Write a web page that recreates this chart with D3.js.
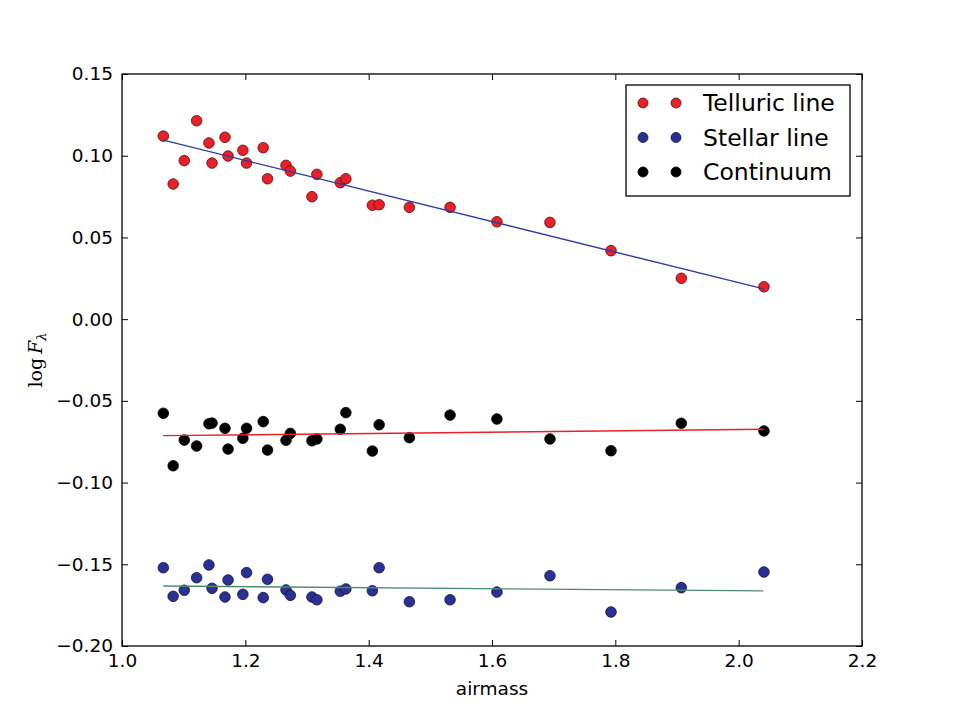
<!DOCTYPE html>
<html>
<head>
<meta charset="utf-8">
<style>
  body { margin: 0; background: #fff; }
</style>
</head>
<body>
<div id="chart"></div>
<script src="https://cdn.jsdelivr.net/npm/d3@7"></script>
<script>
// airmass of each exposure (shared by all three series)
const airmass = [1.067, 1.083, 1.101, 1.121, 1.141, 1.146, 1.167, 1.172, 1.196, 1.202,
                 1.229, 1.236, 1.266, 1.273, 1.308, 1.316, 1.354, 1.363, 1.406, 1.417,
                 1.466, 1.532, 1.608, 1.694, 1.793, 1.907, 2.041];

const telluric = [0.112, 0.0827, 0.097, 0.1214, 0.1078, 0.0955, 0.1113, 0.0998, 0.1033, 0.0955,
                  0.1049, 0.0859, 0.0941, 0.0906, 0.0749, 0.0886, 0.0835, 0.0859, 0.0697, 0.070,
                  0.0684, 0.0684, 0.0596, 0.0592, 0.0419, 0.025, 0.0198];

const stellar = [-0.1521, -0.1696, -0.1659, -0.1582, -0.1504, -0.1647, -0.170, -0.1596, -0.1684, -0.1551,
                 -0.1704, -0.1592, -0.1657, -0.169, -0.170, -0.1717, -0.1665, -0.1651, -0.1662, -0.1521,
                 -0.1729, -0.1717, -0.167, -0.157, -0.1792, -0.1643, -0.1547];

const continuum = [-0.0576, -0.0897, -0.074, -0.0776, -0.064, -0.0636, -0.0668, -0.0795, -0.0729, -0.0668,
                   -0.0627, -0.0801, -0.0741, -0.0699, -0.0744, -0.0733, -0.0674, -0.0572, -0.0807, -0.0646,
                   -0.0725, -0.0587, -0.0611, -0.0733, -0.0805, -0.0637, -0.0684];

// straight-line fits, as endpoints [airmass, logF]
const telluricFit  = [[1.067, 0.1095], [2.041, 0.0185]];
const continuumFit = [[1.067, -0.0713], [2.041, -0.0674]];
const stellarFit   = [[1.067, -0.1633], [2.041, -0.1663]];

const xTicks = [1.0, 1.2, 1.4, 1.6, 1.8, 2.0, 2.2];
const yTicks = [-0.20, -0.15, -0.10, -0.05, 0.00, 0.05, 0.10, 0.15];

const width = 960, height = 720;
const margin = { left: 122, right: 98, top: 74, bottom: 74 };

const svg = d3.select("#chart").append("svg")
    .attr("width", width)
    .attr("height", height)
    .style("font-family", "'DejaVu Sans', sans-serif");

const x = d3.scaleLinear().domain([1.0, 2.2]).range([margin.left, width - margin.right]);
const y = d3.scaleLinear().domain([-0.20, 0.15]).range([height - margin.bottom, margin.top]);

const fmtY = v => d3.format(".2f")(v).replace("-", "\u2212");
const fmtX = d3.format(".1f");

// ticks on all four sides, pointing inward
const tick = 6;
svg.append("g").attr("transform", `translate(0,${y(-0.20)})`)
    .call(d3.axisBottom(x).tickValues(xTicks).tickFormat(fmtX).tickSizeInner(-tick).tickSizeOuter(0).tickPadding(8));
svg.append("g").attr("transform", `translate(0,${y(0.15)})`)
    .call(d3.axisTop(x).tickValues(xTicks).tickFormat("").tickSizeInner(-tick).tickSizeOuter(0));
svg.append("g").attr("transform", `translate(${x(1.0)},0)`)
    .call(d3.axisLeft(y).tickValues(yTicks).tickFormat(fmtY).tickSizeInner(-tick).tickSizeOuter(0).tickPadding(9));
svg.append("g").attr("transform", `translate(${x(2.2)},0)`)
    .call(d3.axisRight(y).tickValues(yTicks).tickFormat("").tickSizeInner(-tick).tickSizeOuter(0));

svg.selectAll(".domain").remove();
svg.selectAll(".tick line").attr("stroke", "#000").attr("stroke-width", 1);
svg.selectAll(".tick text")
    .style("font-size", "18.5px").style("font-family", "'DejaVu Sans', sans-serif").attr("fill", "#000");

svg.append("rect")
    .attr("x", x(1.0)).attr("y", y(0.15))
    .attr("width", x(2.2) - x(1.0)).attr("height", y(-0.20) - y(0.15))
    .attr("fill", "none").attr("stroke", "#000").attr("stroke-width", 1.3);

const series = [
  { name: "Telluric line", values: telluric,  fill: "#e8202a", edge: "#5a0a0a" },
  { name: "Stellar line",  values: stellar,   fill: "#2b3194", edge: "#10103a" },
  { name: "Continuum",     values: continuum, fill: "#000000", edge: "#000000" }
];

const plot = svg.append("g");

series.forEach(s => {
  plot.selectAll(null)
    .data(airmass.map((a, i) => [a, s.values[i]]))
    .join("circle")
      .attr("cx", d => x(d[0]))
      .attr("cy", d => y(d[1]))
      .attr("r", 5.3)
      .attr("fill", s.fill)
      .attr("stroke", s.edge)
      .attr("stroke-width", 0.8);
});

const line = d3.line().x(d => x(d[0])).y(d => y(d[1]));
[[telluricFit, "#2e3aa0"], [continuumFit, "#e8202a"], [stellarFit, "#4f8a6f"]].forEach(([pts, c]) => {
  plot.append("path").attr("d", line(pts))
      .attr("fill", "none").attr("stroke", c).attr("stroke-width", 1.4);
});

// legend
const lg = svg.append("g").attr("transform", "translate(626,85)");
lg.append("rect").attr("width", 224).attr("height", 111)
    .attr("fill", "#fff").attr("stroke", "#000").attr("stroke-width", 1.3);
series.forEach((s, i) => {
  const cy = 18 + i * 34.5;
  [17, 50].forEach(cx => {
    lg.append("circle").attr("cx", cx).attr("cy", cy).attr("r", 5)
      .attr("fill", s.fill).attr("stroke", s.edge).attr("stroke-width", 0.8);
  });
  lg.append("text").attr("x", 77).attr("y", cy).attr("dy", "0.36em")
    .style("font-size", "23.5px").text(s.name);
});

// axis labels
svg.append("text")
    .attr("x", (x(1.0) + x(2.2)) / 2).attr("y", 695)
    .attr("text-anchor", "middle").style("font-size", "18.5px")
    .text("airmass");

const yl = svg.append("text")
    .attr("transform", `translate(42,${(y(-0.20) + y(0.15)) / 2}) rotate(-90)`)
    .attr("text-anchor", "middle")
    .style("font-family", "'DejaVu Serif', serif").style("font-size", "19px");
yl.append("tspan").text("log");
yl.append("tspan").style("font-style", "italic").attr("dx", 4).text("F");
yl.append("tspan").style("font-style", "italic").style("font-size", "13px").attr("dy", 4).text("λ");
</script>
</body>
</html>
